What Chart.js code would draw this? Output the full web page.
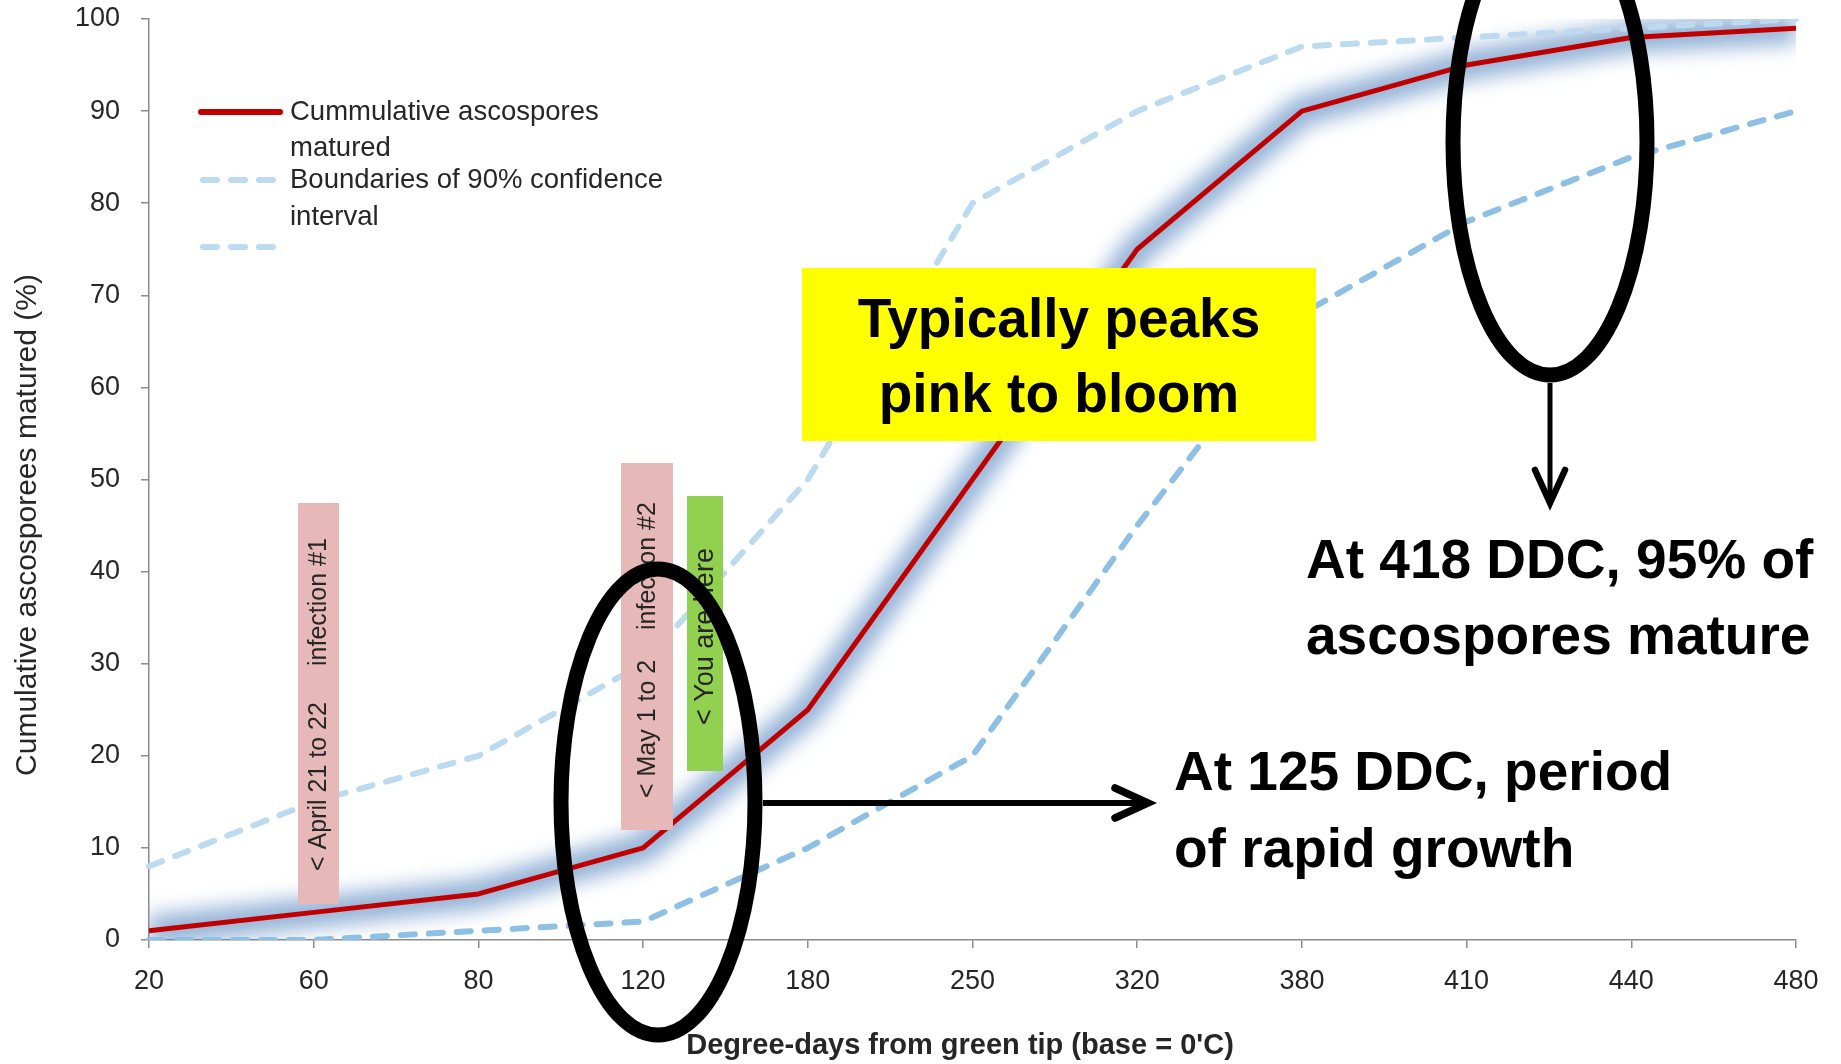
<!DOCTYPE html>
<html>
<head>
<meta charset="utf-8">
<script src="https://cdn.jsdelivr.net/npm/chart.js@4.4.1/dist/chart.umd.min.js"></script>
<style>
  html, body { margin: 0; padding: 0; background: #fff; }
  #wrap { position: relative; width: 1841px; height: 1064px; }
</style>
</head>
<body>
<div id="wrap"><canvas id="ascoChart"></canvas></div>
<script>
// degree-days categories (evenly spaced on the axis, as in the original sheet)
const degreeDays = ['20', '60', '80', '120', '180', '250', '320', '380', '410', '440', '480'];
const maturedPct = [1, 3, 5, 10, 25, 50, 75, 90, 95, 98, 99];
const upperBound = [8, 15, 20, 30, 50, 80, 90, 97, 98, 99, 100];
const lowerBound = [0, 0, 1, 2, 10, 20, 45, 68, 78, 85, 90];
const legendLabels = ['Cummulative ascospores', 'matured', 'Boundaries of 90% confidence', 'interval'];

const FONT = "'Liberation Sans', Arial, sans-serif";
const TEXT_DARK = '#262626';
const AXIS_GRAY = '#8c8c8c';
const RED = '#c00000';
const LIGHT_BLUE = '#bddbf0';
const MID_BLUE = '#8dc0e4';

// soft blue halo behind the main curve
const glowPlugin = {
    id: 'glow',
    beforeDatasetDraw(chart, args) {
        if (!chart.data.datasets[args.index].glow) return;
        chart.ctx.save();
        chart.ctx.filter = 'blur(10px)';
    },
    afterDatasetDraw(chart, args) {
        if (chart.data.datasets[args.index].glow) chart.ctx.restore();
    }
};

function rotatedText(ctx, text, x, y, font, color) {
    ctx.save();
    ctx.translate(x, y);
    ctx.rotate(-Math.PI / 2);
    ctx.font = font;
    ctx.fillStyle = color;
    ctx.textAlign = 'left';
    ctx.textBaseline = 'middle';
    ctx.fillText(text, 0, 0);
    ctx.restore();
}

function arrow(ctx, x1, y1, x2, y2, width) {
    const ang = Math.atan2(y2 - y1, x2 - x1);
    ctx.save();
    ctx.strokeStyle = '#000';
    ctx.lineWidth = width;
    ctx.beginPath();
    ctx.moveTo(x1, y1);
    ctx.lineTo(x2 - Math.cos(ang) * 3, y2 - Math.sin(ang) * 3);
    ctx.stroke();
    ctx.lineWidth = width + 1.5;
    ctx.lineCap = 'round';
    ctx.lineJoin = 'miter';
    ctx.beginPath();
    ctx.moveTo(x2 - 33 * Math.cos(ang) + 15 * Math.sin(ang), y2 - 33 * Math.sin(ang) - 15 * Math.cos(ang));
    ctx.lineTo(x2, y2);
    ctx.lineTo(x2 - 33 * Math.cos(ang) - 15 * Math.sin(ang), y2 - 33 * Math.sin(ang) + 15 * Math.cos(ang));
    ctx.stroke();
    ctx.restore();
}

const overlayPlugin = {
    id: 'overlay',
    afterDraw(chart) {
        const ctx = chart.ctx;
        const ds = chart.data.datasets;

        // axis titles
        ctx.save();
        ctx.fillStyle = TEXT_DARK;
        ctx.font = 'bold 29px ' + FONT;
        ctx.textAlign = 'center';
        ctx.textBaseline = 'middle';
        ctx.fillText('Degree-days from green tip (base = 0\'C)', 960, 1046);
        ctx.translate(28, 525);
        ctx.rotate(-Math.PI / 2);
        ctx.font = '30px ' + FONT;
        ctx.fillText('Cumulative ascosporees matured (%)', 0, 0);
        ctx.restore();

        // legend
        ctx.save();
        ctx.lineWidth = 6;
        ctx.lineCap = 'round';
        ctx.strokeStyle = ds[0].borderColor;
        ctx.beginPath(); ctx.moveTo(201, 112); ctx.lineTo(280, 112); ctx.stroke();
        ctx.strokeStyle = ds[1].borderColor;
        ctx.setLineDash([14, 14]);
        [180, 247].forEach(y => {
            ctx.beginPath(); ctx.moveTo(203, y); ctx.lineTo(280, y); ctx.stroke();
        });
        ctx.setLineDash([]);
        ctx.fillStyle = TEXT_DARK;
        ctx.font = '27.5px ' + FONT;
        ctx.textAlign = 'left';
        ctx.textBaseline = 'middle';
        [112, 148, 180, 217].forEach((y, i) => ctx.fillText(legendLabels[i], 290, y));
        ctx.restore();

        // yellow callout
        ctx.save();
        ctx.fillStyle = '#ffff00';
        ctx.fillRect(802, 268, 514, 173);
        ctx.fillStyle = '#000';
        ctx.font = 'bold 55px ' + FONT;
        ctx.textAlign = 'center';
        ctx.textBaseline = 'alphabetic';
        ctx.fillText('Typically peaks', 1059, 337);
        ctx.fillText('pink to bloom', 1059, 412);
        ctx.restore();

        // infection / position markers
        ctx.save();
        ctx.fillStyle = '#e6b8b7';
        ctx.fillRect(298, 503, 41, 401);
        ctx.fillRect(621, 463, 52, 367);
        ctx.fillStyle = '#92d050';
        ctx.fillRect(687, 496, 36, 275);
        ctx.restore();
        const small = '25px ' + FONT;
        rotatedText(ctx, '< April 21 to 22', 319, 871, small, TEXT_DARK);
        rotatedText(ctx, 'infection #1', 319, 666, small, TEXT_DARK);
        rotatedText(ctx, '< May 1 to 2', 648, 798, small, TEXT_DARK);
        rotatedText(ctx, 'infection #2', 648, 630, small, TEXT_DARK);
        rotatedText(ctx, '< You are here', 706, 725, '27px ' + FONT, TEXT_DARK);

        // ellipses
        ctx.save();
        ctx.strokeStyle = '#000';
        ctx.lineWidth = 15;
        ctx.beginPath(); ctx.ellipse(658, 802, 97, 233, 0, 0, Math.PI * 2); ctx.stroke();
        ctx.beginPath(); ctx.ellipse(1550, 142, 97, 233, 0, 0, Math.PI * 2); ctx.stroke();
        ctx.restore();

        arrow(ctx, 763, 803, 1148, 803, 6);
        arrow(ctx, 1550, 383, 1550, 503, 5);

        // big notes
        ctx.save();
        ctx.fillStyle = '#000';
        ctx.font = 'bold 55px ' + FONT;
        ctx.textAlign = 'left';
        ctx.textBaseline = 'alphabetic';
        ctx.fillText('At 418 DDC, 95% of', 1306, 578);
        ctx.fillText('ascospores mature', 1306, 654);
        ctx.fillText('At 125 DDC, period', 1174, 790);
        ctx.fillText('of rapid growth', 1174, 867);
        ctx.restore();
    }
};

new Chart(document.getElementById('ascoChart'), {
    type: 'line',
    data: {
        labels: degreeDays,
        datasets: [
            { label: 'Cummulative ascospores matured', data: maturedPct, borderColor: RED, borderWidth: 5, order: 0 },
            { label: 'Boundaries of 90% confidence interval', data: upperBound, borderColor: LIGHT_BLUE, borderWidth: 6, borderDash: [14, 14], borderCapStyle: 'round', order: 1 },
            { label: 'lower', data: lowerBound, borderColor: MID_BLUE, borderWidth: 6, borderDash: [14, 14], borderCapStyle: 'round', order: 1 },
            { label: 'glow', data: maturedPct, borderColor: 'rgba(79,129,189,0.62)', borderWidth: 30, glow: true, clip: 0, order: 3 }
        ]
    },
    options: {
        responsive: true, maintainAspectRatio: false, animation: false,
        elements: { point: { radius: 0 }, line: { tension: 0, borderJoinStyle: 'round', fill: false } },
        layout: { padding: { top: 19, right: 45, bottom: 0, left: 0 } },
        plugins: { legend: { display: false }, tooltip: { enabled: false } },
        scales: {
            x: {
                offset: false,
                grid: { display: true, drawOnChartArea: false, drawTicks: true, tickLength: 8, color: AXIS_GRAY, lineWidth: 1.5 },
                border: { display: true, color: AXIS_GRAY, width: 1.5 },
                ticks: { font: { family: FONT, size: 27 }, color: TEXT_DARK, padding: 17, maxRotation: 0, autoSkip: false },
                afterFit: (s) => { s.height = 124; }
            },
            y: {
                min: 0, max: 100,
                grid: { display: true, drawOnChartArea: false, drawTicks: true, tickLength: 8, color: AXIS_GRAY, lineWidth: 1.5 },
                border: { display: true, color: AXIS_GRAY, width: 1.5 },
                ticks: { stepSize: 10, font: { family: FONT, size: 27 }, color: TEXT_DARK, padding: 21 },
                afterFit: (s) => { s.width = 149; s.paddingTop = 0; s.paddingBottom = 0; }
            }
        }
    },
    plugins: [glowPlugin, overlayPlugin]
});
</script>
</body>
</html>
